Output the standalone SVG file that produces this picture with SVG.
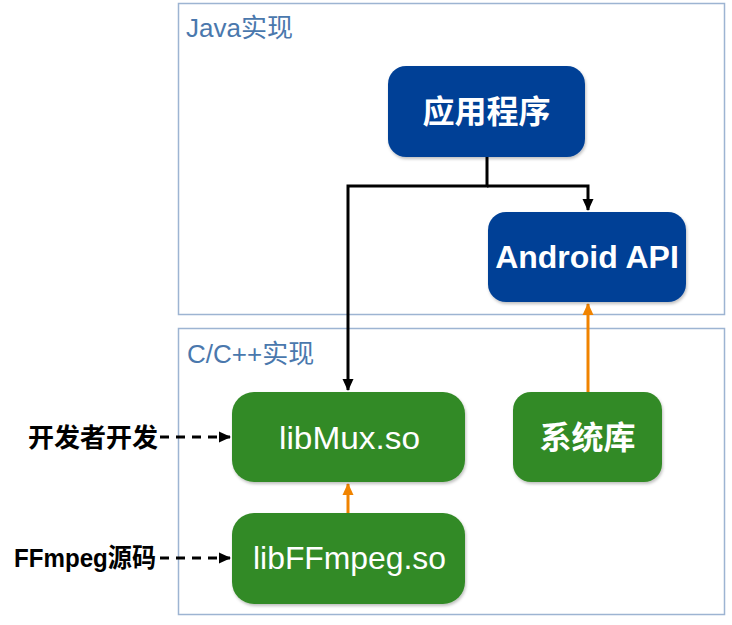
<svg xmlns="http://www.w3.org/2000/svg" width="732" height="625" viewBox="0 0 732 625">
<defs>
<marker id="ab" markerWidth="12" markerHeight="12" refX="11" refY="6" orient="auto" markerUnits="userSpaceOnUse"><path d="M0,0.5 L12,6 L0,11.5 z" fill="#000"/></marker>
<marker id="ao" markerWidth="12" markerHeight="12" refX="11" refY="6" orient="auto" markerUnits="userSpaceOnUse"><path d="M0,0.5 L12,6 L0,11.5 z" fill="#f08300"/></marker>
<filter id="sh" x="-10%" y="-10%" width="120%" height="125%"><feDropShadow dx="1" dy="2" stdDeviation="1.5" flood-color="#000" flood-opacity="0.25"/></filter>
</defs>
<style>
.grp{fill:#fff;stroke:#9db4d2;stroke-width:1.5}
.gl{font-family:"Liberation Sans","Noto Sans CJK SC",sans-serif;font-size:26px;fill:#4a78ad}
.blue{fill:#034196;filter:url(#sh)}
.green{fill:#338a26;filter:url(#sh)}
.nt{font-family:"Liberation Sans","Noto Sans CJK SC",sans-serif;fill:#fff;text-anchor:middle;font-size:32px}
.lt{font-family:"Liberation Sans","Noto Sans CJK SC",sans-serif;font-weight:bold;fill:#000;font-size:26px;text-anchor:end}
.cb{fill:none;stroke:#000;stroke-width:3}
.co{fill:none;stroke:#f08300;stroke-width:3}
.cd{fill:none;stroke:#000;stroke-width:3;stroke-dasharray:9,7}
</style>
<g id="java-group"><rect class="grp" x="178.5" y="3.5" width="546" height="311"/><text class="gl" x="186" y="37">Java实现</text></g>
<g id="c-group"><rect class="grp" x="178.5" y="328.5" width="546" height="286"/><text class="gl" x="187" y="363">C/C++实现</text></g>
<g id="connectors">
<path class="cb" d="M487,157 V186 H348 V390" marker-end="url(#ab)"/>
<path class="cb" d="M487,186 H588 V210" marker-end="url(#ab)"/>
<path class="co" d="M588,392 V304" marker-end="url(#ao)"/>
<path class="co" d="M348,513 V484" marker-end="url(#ao)"/>
<path class="cd" d="M160,437 H230" marker-end="url(#ab)"/>
<path class="cd" d="M160,558 H230" marker-end="url(#ab)"/>
</g>
<g id="app"><rect class="blue" x="388" y="66" width="197" height="91" rx="18"/><text class="nt" x="486.5" y="123" font-weight="bold">应用程序</text></g>
<g id="android-api"><rect class="blue" x="488" y="212" width="198" height="90" rx="18"/><text class="nt" x="587" y="268" font-weight="bold" font-size="29">Android API</text></g>
<g id="libmux"><rect class="green" x="232" y="392" width="233" height="90" rx="22"/><text class="nt" x="349.5" y="449" font-size="33" textLength="141" lengthAdjust="spacingAndGlyphs">libMux.so</text></g>
<g id="syslib"><rect class="green" x="513" y="392" width="149" height="90" rx="18"/><text class="nt" x="587.5" y="449" font-weight="bold" font-size="31">系统库</text></g>
<g id="libffmpeg"><rect class="green" x="232" y="513" width="233" height="91" rx="22"/><text class="nt" x="349.5" y="569" font-size="34" textLength="193" lengthAdjust="spacingAndGlyphs">libFFmpeg.so</text></g>
<g id="dev-label"><text class="lt" x="158" y="447">开发者开发</text></g>
<g id="ffmpeg-label"><text class="lt" x="156" y="567" textLength="142" lengthAdjust="spacingAndGlyphs">FFmpeg源码</text></g>
</svg>
